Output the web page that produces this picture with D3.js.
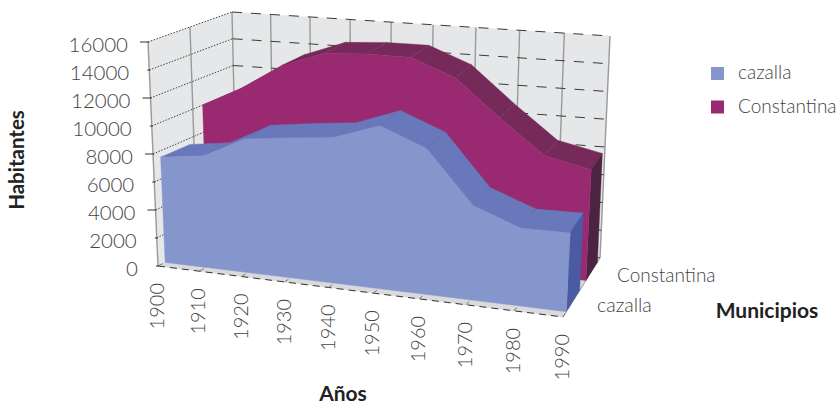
<!DOCTYPE html>
<html><head><meta charset="utf-8">
<script src="https://cdn.jsdelivr.net/npm/d3@7"></script>
<style>html,body{margin:0;padding:0;background:#fff}svg{display:block}text{font-family:Lato,sans-serif}</style>
</head><body><svg id="c" width="838" height="404"></svg>
<script>
const years=["1900","1910","1920","1930","1940","1950","1960","1970","1980","1990"];
const cazalla=[7550,7950,9500,9900,10250,11400,10150,6550,5350,5400];
const constantina=[10000,11500,13400,14500,14700,14700,13500,10900,8500,7800];
const seriesNames=["cazalla","Constantina"];
const yTicks=[0,2000,4000,6000,8000,10000,12000,14000,16000];

const svg=d3.select("#c");
const corners={fb:[[158,266],[563,317]],ft:[[148,42],[575,82]],bb:[[237,226],[600,258]],bt:[[232,12],[610,36]]};
const xIdx=d3.scaleLinear().domain([0,years.length-1]).range([0,1]);
const warp=u=>u/(1.1-0.1*u);
const yS=d3.scaleLinear().domain([0,16000]).range([0,1]);
const lerp=(a,b,t)=>[a[0]+(b[0]-a[0])*t,a[1]+(b[1]-a[1])*t];
function proj(i,v,z){
  const u=warp(xIdx(i)),h=yS(v);
  const fb=lerp(corners.fb[0],corners.fb[1],u),ft=lerp(corners.ft[0],corners.ft[1],u);
  const bb=lerp(corners.bb[0],corners.bb[1],u),bt=lerp(corners.bt[0],corners.bt[1],u);
  return lerp(lerp(fb,bb,z),lerp(ft,bt,z),h);
}
const path=d3.line();
const poly=(pts,fill,g)=>(g||svg).append("path").attr("d",path(pts)+"Z").attr("fill",fill).attr("stroke",fill).attr("stroke-width",.4);
const last=years.length-1;
const line=(a,b,col,w,dash)=>{const l=svg.append("line").attr("x1",a[0]).attr("y1",a[1]).attr("x2",b[0]).attr("y2",b[1]).attr("stroke",col).attr("stroke-width",w);if(dash)l.attr("stroke-dasharray",dash);return l;};

// walls + floor
poly([proj(0,0,0),proj(0,16000,0),proj(0,16000,1),proj(0,0,1)],"#e6e7e8");
poly([proj(0,0,1),proj(0,16000,1),proj(last,16000,1),proj(last,0,1)],"#e6e7e8");
poly([proj(0,0,0),proj(last,0,0),proj(last,0,1),proj(0,0,1)],"#d9dadb");
// vertical grid
years.forEach((y,i)=>line(proj(i,0,1),proj(i,16000,1),"#9a9a9a",1.4));
[0,.5].forEach(z=>line(proj(0,0,z),proj(0,16000,z),"#9a9a9a",1.4));
// horizontal grid
yTicks.forEach(t=>{
  line(proj(0,t,1),proj(last,t,1),"#3a3a3a",1,"10 9");
  if(t>0) line(proj(0,t,0),proj(0,t,1),"#444",1,"1.5 1.5");
});
// floor dashes and ticks
line(proj(0,0,0),proj(last,0,0),"#333",1,"7 5");
line(proj(last,0,0),proj(last,0,1),"#999",1);
years.forEach((y,i)=>{const a=proj(i,0,0);line(a,proj(i,0,.06),"#777",1);});

function slab(vals,z0,z1,cTop,cFront,cSide){
  const g=svg.append("g");
  vals.forEach((v,i)=>{ if(i<last) poly([proj(i,v,z0),proj(i+1,vals[i+1],z0),proj(i+1,vals[i+1],z1),proj(i,v,z1)],cTop,g); });
  poly([proj(last,0,z0),proj(last,vals[last],z0),proj(last,vals[last],z1),proj(last,0,z1)],cSide,g);
  const front=[proj(0,0,z0)].concat(vals.map((v,i)=>proj(i,v,z0)),[proj(last,0,z0)]);
  poly(front,cFront,g);
}
slab(constantina,.62,.93,"#752a5a","#992a71","#4c2340");
slab(cazalla,.09,.45,"#6878bb","#8596cd","#4a5aa3");

// y axis
yTicks.forEach(t=>{
  const p=proj(0,t,0);
  const major=t%4000===0&&t>0;
  line([p[0]-(major?8:2),p[1]],[p[0]+1,p[1]],"#333",1);
  svg.append("text").attr("x",p[0]-20).attr("y",p[1]+10).attr("text-anchor","end")
    .attr("font-size",20.5).attr("font-weight",300).attr("fill","#444").text(d3.format("d")(t));
});
// x labels
years.forEach((y,i)=>{
  const p=proj(i,0,0);
  svg.append("text").attr("transform",`translate(${p[0]-1},${p[1]+17}) rotate(-90)`)
    .attr("text-anchor","end").attr("dy",".35em").attr("font-size",20).attr("font-weight",300).attr("fill","#444").text(y);
});
// series labels
svg.append("text").attr("x",617).attr("y",282).attr("font-size",19).attr("font-weight",300).attr("fill","#444").text(seriesNames[1]);
svg.append("text").attr("x",597).attr("y",312).attr("font-size",19.5).attr("font-weight",300).attr("fill","#444").text(seriesNames[0]);
// titles
svg.append("text").attr("transform","translate(24,160) rotate(-90)").attr("text-anchor","middle").attr("font-size",20.5).attr("font-weight",700).attr("fill","#222").text("Habitantes");
svg.append("text").attr("x",343).attr("y",401).attr("text-anchor","middle").attr("font-size",21).attr("font-weight",700).attr("fill","#222").text("Años");
svg.append("text").attr("x",767).attr("y",318).attr("text-anchor","middle").attr("font-size",21).attr("font-weight",700).attr("fill","#222").text("Municipios");
// legend
const legendColors=["#8596cd","#992a71"];
seriesNames.forEach((n,i)=>{
  svg.append("rect").attr("x",711).attr("y",67+i*33.5).attr("width",13).attr("height",13).attr("fill",legendColors[i]);
  svg.append("text").attr("x",738).attr("y",79+i*33.5).attr("font-size",19).attr("font-weight",300).attr("fill","#444").text(n);
});
</script></body></html>
